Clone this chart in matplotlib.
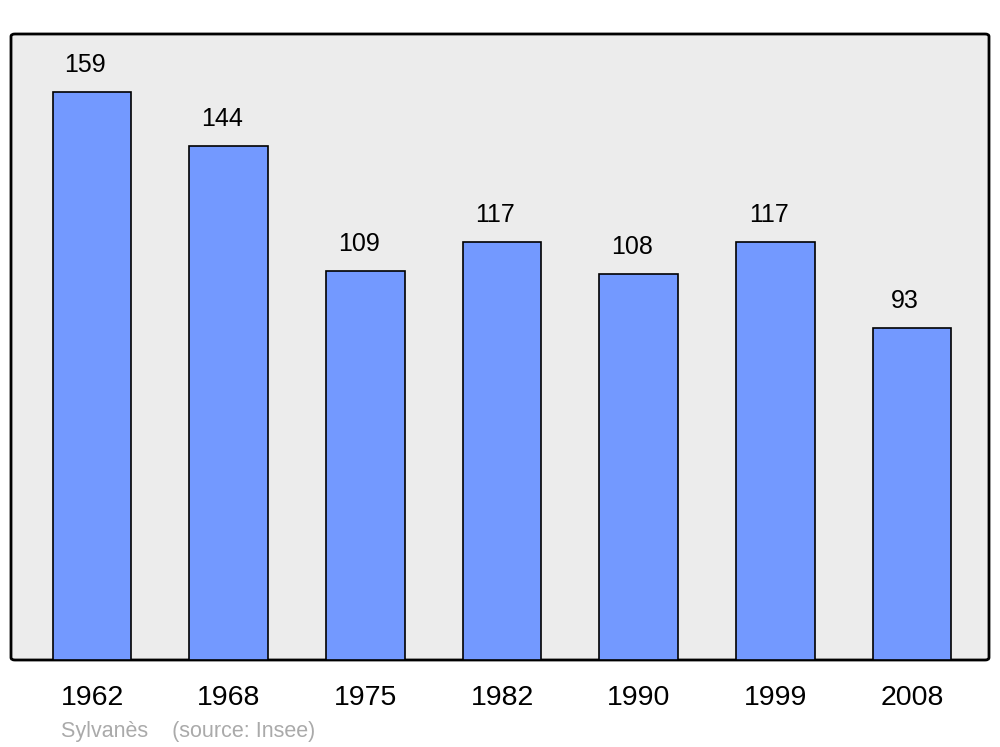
import matplotlib.pyplot as plt
from matplotlib.patches import FancyBboxPatch

years = ["1962", "1968", "1975", "1982", "1990", "1999", "2008"]
population = [159, 144, 109, 117, 108, 117, 93]

fig = plt.figure(figsize=(10, 7.47), dpi=100)
ax = fig.add_axes([0.011, 1 - 660 / 747, 0.978, 626 / 747])
ax.set_facecolor("none")
for s in ax.spines.values():
    s.set_visible(False)

frame = FancyBboxPatch((0, 0), 1, 1, boxstyle="round,pad=0,rounding_size=0.004",
                       transform=ax.transAxes, facecolor="#ececec", edgecolor="black",
                       lw=2, zorder=0, clip_on=False)
ax.add_patch(frame)

x = range(len(years))
ax.bar(x, population, width=0.575, color="#7399ff", edgecolor="black", lw=1.2, zorder=2)
for i, v in zip(x, population):
    ax.text(i - 0.05, v + 7.6, str(v), ha="center", va="center", fontsize=18,
            family="Liberation Sans")

ax.set_xlim(-0.593, 6.563)
ax.set_ylim(0, 175.3)
ax.set_yticks([])
ax.set_xticks(list(x))
ax.set_xticklabels(years, fontsize=20.5, family="Liberation Sans")
ax.tick_params(axis="x", length=0, pad=18)

fig.text(0.061, 1 - 731 / 747, "Sylvanès    (source: Insee)", fontsize=15.5,
         color="#aaaaaa", va="center", family="Liberation Sans")

fig.savefig("out.png", dpi=100)
